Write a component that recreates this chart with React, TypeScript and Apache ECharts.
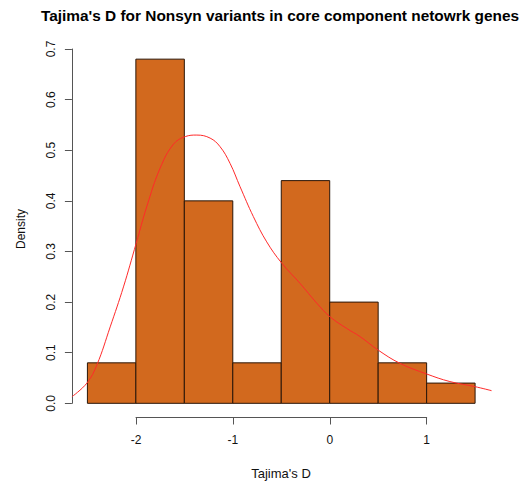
import React, { useEffect, useRef } from "react";
import * as echarts from "echarts";

const breaks = [-2.5, -2, -1.5, -1, -0.5, 0, 0.5, 1, 1.5];
const densities = [0.08, 0.68, 0.4, 0.08, 0.44, 0.2, 0.08, 0.04];

const curveX = [
  -2.66, -2.505, -2.402, -2.265, -2.128, -1.997, -1.887, -1.749, -1.612, -1.49,
  -1.371, -1.234, -1.131, -1.028, -0.925, -0.788, -0.65, -0.495, -0.306, -0.134,
  0.003, 0.175, 0.312, 0.501, 0.725, 1.0, 1.24, 1.498, 1.67,
];
const curveY = [
  0.013, 0.04, 0.076, 0.151, 0.23, 0.316, 0.389, 0.465, 0.512, 0.527,
  0.53, 0.524, 0.507, 0.474, 0.428, 0.369, 0.319, 0.277, 0.237, 0.198,
  0.171, 0.148, 0.132, 0.105, 0.079, 0.058, 0.043, 0.033, 0.025,
];

const titleText = "Tajima's D for Nonsyn variants in core component netowrk genes";
const xLabel = "Tajima's D";
const yLabel = "Density";

const FONT = "'Liberation Sans', Arial, sans-serif";

export default function App() {
  const ref = useRef<HTMLDivElement>(null);
  useEffect(() => {
    if (!ref.current) return;
    const chart = echarts.init(ref.current, null, { renderer: "svg" });
    const histData = densities.map((d, i) => [breaks[i], breaks[i + 1], d]);
    const curveData = curveX.map((x, i) => [x, curveY[i]]);
    const axisColor = "#555";
    chart.setOption({
      animation: false,
      backgroundColor: "#fff",
      textStyle: { fontFamily: FONT },
      grid: [
        { left: 71.9, right: 526 - 490.6, top: 34.85, bottom: 483 - 417.5 },
        { left: 136, width: 290.7, top: 34.85, bottom: 483 - 417.5 },
        { left: 71.9, width: 300, top: 49, height: 354.3 },
      ],
      xAxis: [
        { gridIndex: 0, type: "value", min: -2.66, max: 1.66, show: false },
        {
          gridIndex: 1,
          type: "value",
          min: -2,
          max: 1,
          interval: 1,
          axisLine: { show: true, lineStyle: { color: axisColor, width: 1 } },
          axisTick: { show: true, length: 7, lineStyle: { color: axisColor } },
          axisLabel: { show: true, margin: 16, fontSize: 12, color: "#111", fontFamily: FONT },
          splitLine: { show: false },
        },
        { gridIndex: 2, type: "value", min: 0, max: 1, show: false },
      ],
      yAxis: [
        { gridIndex: 0, type: "value", min: -0.028, max: 0.728, show: false },
        { gridIndex: 1, type: "value", min: 0, max: 1, show: false },
        {
          gridIndex: 2,
          type: "value",
          min: 0,
          max: 0.7,
          interval: 0.1,
          axisLine: { show: true, lineStyle: { color: axisColor, width: 1 } },
          axisTick: { show: true, length: 7, lineStyle: { color: axisColor } },
          axisLabel: {
            show: true,
            rotate: 90,
            margin: 15,
            fontSize: 12,
            color: "#111",
            fontFamily: FONT,
            formatter: (v: number) => v.toFixed(1),
          },
          splitLine: { show: false },
        },
      ],
      series: [
        {
          type: "custom",
          xAxisIndex: 0,
          yAxisIndex: 0,
          data: histData,
          clip: false,
          renderItem: (params: any, api: any) => {
            const x0 = api.value(0);
            const x1 = api.value(1);
            const y = api.value(2);
            const p0 = api.coord([x0, y]);
            const p1 = api.coord([x1, 0]);
            return {
              type: "rect",
              shape: { x: p0[0], y: p0[1], width: p1[0] - p0[0], height: p1[1] - p0[1] },
              style: { fill: "#D2691E", stroke: "#2a1608", lineWidth: 1 },
            };
          },
        },
        {
          type: "line",
          xAxisIndex: 0,
          yAxisIndex: 0,
          data: curveData,
          smooth: 0.4,
          showSymbol: false,
          symbol: "none",
          clip: true,
          lineStyle: { color: "#ff2a2a", width: 1 },
          z: 5,
        },
      ],
      graphic: [
        {
          type: "text",
          x: 280,
          y: 15,
          style: {
            text: titleText,
            fontSize: 15.4,
            fontWeight: "bold",
            fontFamily: FONT,
            fill: "#000",
            textAlign: "center",
            textVerticalAlign: "middle",
          },
        },
        {
          type: "text",
          x: 281,
          y: 473,
          style: {
            text: xLabel,
            fontSize: 13,
            fontFamily: FONT,
            fill: "#111",
            textAlign: "center",
            textVerticalAlign: "middle",
          },
        },
        {
          type: "text",
          x: 21,
          y: 229,
          rotation: Math.PI / 2,
          style: {
            text: yLabel,
            fontSize: 12,
            fontFamily: FONT,
            fill: "#111",
            textAlign: "center",
            textVerticalAlign: "middle",
          },
        },
      ],
    });
    return () => chart.dispose();
  }, []);
  return (
    <div
      ref={ref}
      style={{ position: "absolute", left: 0, top: 0, width: 526, height: 483 }}
    />
  );
}
